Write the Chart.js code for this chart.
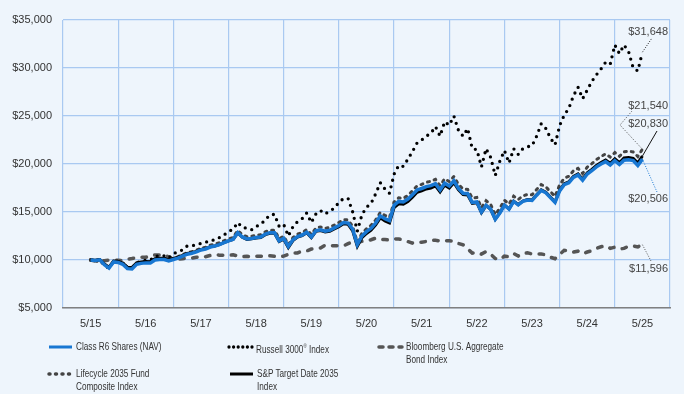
<!DOCTYPE html>
<html>
<head>
<meta charset="utf-8">
<script src="https://cdn.jsdelivr.net/npm/chart.js@4.4.1/dist/chart.umd.min.js"></script>
<style>
  html, body { margin: 0; padding: 0; background: #eef5fc; }
  #wrap { position: relative; width: 684px; height: 394px; overflow: hidden; }
  #growthChart { position: absolute; left: 0; top: 0; }
  .lg { position: absolute; font: 11px "Liberation Sans", Arial, sans-serif; color: #333; line-height: 13px; }
  .lg svg { position: absolute; }
  .lg .t { margin-left: 29px; white-space: nowrap; transform: scaleX(0.745); transform-origin: left top; }
</style>
</head>
<body>
<div id="wrap">
  <canvas id="growthChart" width="684" height="394"></canvas>
  <div id="legend"></div>
</div>
<script>
// x tick labels, one per year (data is monthly, May 2015 .. May 2025)
const tickLabels = ['5/15', '5/16', '5/17', '5/18', '5/19', '5/20', '5/21', '5/22', '5/23', '5/24', '5/25'];

const classR6 = [
  10000, 9950, 10020, 9500, 9150, 9800, 9750, 9550, 9100, 9060,
  9550, 9650, 9700, 9680, 10000, 10050, 10050, 9900, 10050, 10200,
  10400, 10600, 10700, 10850, 11050, 11150, 11350, 11450, 11600, 11800,
  12000, 12150, 12850, 12400, 12200, 12250, 12350, 12400, 12700, 12850,
  12850, 12000, 12250, 11400, 12100, 12450, 12600, 12900, 12400, 13050,
  13150, 13000, 13100, 13350, 13600, 13900, 13850, 13200, 11600, 12500,
  12950, 13300, 13850, 14600, 14300, 14100, 15700, 16100, 16050, 16350,
  16800, 17300, 17450, 17650, 17750, 17950, 17300, 18000, 17700, 18250,
  17450, 16950, 16900, 16000, 16050, 15000, 15700, 15300, 14250, 14900,
  15700, 15300, 16100, 15750, 16100, 16250, 16200, 16750, 17250, 17000,
  16500, 16000, 17200, 17850, 18050, 18600, 18850, 18300, 18950, 19300,
  19700, 20000, 20250, 19900, 20350, 19950, 20400, 20450, 20350, 19850,
  20506
];

const russell3000 = [
  10000, 9830, 10000, 9420, 9140, 9850, 9900, 9700, 9150, 9130,
  9760, 9820, 9990, 10010, 10400, 10420, 10440, 10210, 10660, 10850,
  11050, 11460, 11470, 11590, 11720, 11830, 12050, 12080, 12330, 12600,
  12980, 13200, 13900, 13400, 13300, 13150, 13500, 13700, 14200, 14700,
  14750, 13500, 13700, 12500, 13460, 14000, 14300, 14900, 13900, 14800,
  15150, 14800, 15100, 15400, 16000, 16400, 16400, 15000, 13000, 14700,
  15500, 15900, 16900, 18050, 17400, 16950, 18950, 19850, 19750, 20500,
  21300, 22200, 22500, 22900, 23200, 23900, 22900, 24400, 24050, 25000,
  23500, 22900, 23700, 21600, 21500, 19700, 21600, 20700, 18800, 20300,
  21400, 20100, 21600, 21000, 21600, 21800, 21900, 22900, 24200, 23700,
  22700, 22000, 24000, 25100, 25800, 27100, 28000, 26800, 27700, 28600,
  29300, 29900, 30600, 30400, 32400, 31500, 32400, 31700, 30000, 29700,
  31648
];

const bloombergAgg = [
  10000, 9900, 9970, 9920, 9990, 10000, 9970, 9940, 10070, 10150,
  10250, 10280, 10280, 10470, 10530, 10520, 10510, 10330, 10080, 10100,
  10120, 10200, 10200, 10280, 10360, 10350, 10470, 10560, 10500, 10500,
  10490, 10540, 10420, 10330, 10400, 10320, 10390, 10390, 10390, 10450,
  10390, 10330, 10400, 10590, 10740, 10740, 10940, 10950, 11140, 11230,
  11250, 11540, 11480, 11490, 11480, 11470, 11700, 11910, 11840, 11950,
  12010, 12110, 12280, 12150, 12130, 12080, 12200, 12180, 12090, 11920,
  11760, 11850, 11840, 11930, 12070, 12050, 11990, 12000, 12000, 11980,
  11720, 11590, 11160, 10720, 10790, 10610, 10880, 10610, 10160, 10020,
  10400, 10350, 10680, 10410, 10690, 10750, 10630, 10620, 10620, 10550,
  10290, 10130, 10590, 11000, 10970, 10820, 10920, 10640, 10830, 10960,
  11210, 11380, 11490, 11210, 11340, 11150, 11210, 11450, 11460, 11370,
  11596
];

const lifecycle2035 = [
  10000, 9980, 10050, 9560, 9230, 9860, 9830, 9650, 9250, 9210,
  9670, 9770, 9830, 9810, 10120, 10180, 10180, 10030, 10190, 10350,
  10550, 10760, 10860, 11020, 11230, 11330, 11540, 11640, 11800, 12000,
  12200, 12350, 13080, 12620, 12420, 12470, 12580, 12630, 12940, 13100,
  13100, 12220, 12480, 11600, 12330, 12700, 12860, 13170, 12660, 13330,
  13440, 13290, 13400, 13650, 13910, 14210, 14170, 13500, 11850, 12780,
  13250, 13620, 14180, 14950, 14650, 14430, 16050, 16470, 16420, 16730,
  17200, 17720, 17880, 18090, 18200, 18410, 17740, 18460, 18160, 18700,
  17870, 17390, 17360, 16450, 16520, 15460, 16180, 15790, 14720, 15400,
  16220, 15830, 16650, 16300, 16670, 16830, 16790, 17350, 17860, 17610,
  17120, 16620, 17840, 18510, 18720, 19290, 19550, 19010, 19670, 20030,
  20460, 20780, 21050, 20720, 21190, 20800, 21270, 21340, 21250, 20780,
  21540
];

const spTarget2035 = [
  10000, 9970, 10040, 9580, 9250, 9880, 9850, 9670, 9250, 9210,
  9700, 9800, 9850, 9830, 10140, 10180, 10170, 10010, 10150, 10290,
  10480, 10670, 10760, 10900, 11090, 11180, 11370, 11460, 11600, 11800,
  12000, 12140, 12820, 12360, 12150, 12200, 12300, 12350, 12640, 12790,
  12790, 11920, 12170, 11300, 12020, 12380, 12530, 12840, 12330, 12980,
  13070, 12910, 13000, 13240, 13480, 13770, 13710, 13040, 11420, 12320,
  12770, 13110, 13650, 14390, 14070, 13860, 15450, 15850, 15800, 16100,
  16550, 17050, 17200, 17400, 17500, 17720, 17080, 17790, 17490, 18050,
  17300, 16810, 16780, 15900, 15970, 14940, 15660, 15280, 14250, 14920,
  15720, 15320, 16130, 15780, 16140, 16290, 16250, 16800, 17300, 17060,
  16560, 16070, 17280, 17940, 18150, 18710, 18970, 18420, 19080, 19440,
  19850, 20160, 20420, 20080, 20540, 20130, 20620, 20680, 20580, 20100,
  20830
];

const toXY = arr => arr.map((v, i) => ({ x: i, y: v }));
const money = v => '$' + v.toLocaleString('en-US');

const fontFam = '"Liberation Sans", Arial, sans-serif';

// value labels at the right end, with leader lines
const endLabels = {
  id: 'endLabels',
  afterDatasetsDraw(chart) {
    const ctx = chart.ctx;
    const xs = chart.scales.x, ys = chart.scales.y;
    const last = classR6.length - 1;
    const px = xs.getPixelForValue(last);
    const items = [
      { v: russell3000[last], ty: 32, pts: [[652, 38]], color: '#222', dash: [1, 1.5] },
      { v: lifecycle2035[last], ty: 106, pts: [[620, 125], [632, 111]], color: '#555', dash: [1, 1.5] },
      { v: spTarget2035[last], ty: 124, pts: [[657, 131]], color: '#111', dash: [] },
      { v: classR6[last], ty: 199, pts: [[657, 192]], color: '#1877d2', dash: [1, 1.5] },
      { v: bloombergAgg[last], ty: 269, pts: [[651, 261]], color: '#555', dash: [1, 1.5] }
    ];
    ctx.save();
    items.forEach(it => {
      ctx.beginPath();
      ctx.setLineDash(it.dash);
      ctx.strokeStyle = it.color;
      ctx.lineWidth = 1;
      ctx.moveTo(px, ys.getPixelForValue(it.v));
      it.pts.forEach(p => ctx.lineTo(p[0], p[1]));
      ctx.stroke();
    });
    ctx.setLineDash([]);
    ctx.fillStyle = '#444';
    ctx.font = '11px ' + fontFam;
    ctx.textAlign = 'right';
    ctx.textBaseline = 'middle';
    items.forEach(it => ctx.fillText(money(it.v), 668, it.ty));
    ctx.restore();
  }
};

const gridTicks = tickLabels.map((_, i) => ({ value: i * 12 - 6 })).concat([{ value: 126 }]);

new Chart(document.getElementById('growthChart'), {
  type: 'line',
  data: {
    datasets: [
      { label: 'Class R6 Shares (NAV)', data: toXY(classR6), borderColor: '#1877d2', borderWidth: 3.5, pointRadius: 0, tension: 0 },
      { label: 'S&P Target Date 2035 Index', data: toXY(spTarget2035), borderColor: '#000', borderWidth: 3, pointRadius: 0, tension: 0 },
      { label: 'Lifecycle 2035 Fund Composite Index', data: toXY(lifecycle2035), borderColor: '#444', borderWidth: 3, borderDash: [2, 5], borderCapStyle: 'round', pointRadius: 0, tension: 0 },
      { label: 'Russell 3000® Index', data: toXY(russell3000), borderColor: '#000', borderWidth: 3.3, borderDash: [0, 6.8], borderCapStyle: 'round', pointRadius: 0, tension: 0 },
      { label: 'Bloomberg U.S. Aggregate Bond Index', data: toXY(bloombergAgg), borderColor: '#555', borderWidth: 3.5, borderDash: [4.5, 8.5], borderCapStyle: 'round', pointRadius: 0, tension: 0 }
    ]
  },
  options: {
    responsive: false,
    animation: false,
    devicePixelRatio: 1,
    layout: { padding: { top: 20, right: 14, left: 0, bottom: 0 } },
    plugins: { legend: { display: false }, tooltip: { enabled: false } },
    scales: {
      x: {
        type: 'linear',
        min: -6,
        max: 126,
        afterBuildTicks: s => { s.ticks = tickLabels.map((_, i) => ({ value: i * 12 })); },
        afterFit: s => { s.height = 86; },
        ticks: {
          callback: (v, i) => tickLabels[i],
          color: '#333',
          font: { size: 11, family: fontFam },
          padding: 9,
          maxRotation: 0,
          autoSkip: false
        },
        grid: { display: false, drawTicks: false },
        border: { color: '#808080', width: 1.5 }
      },
      xg: {
        type: 'linear',
        position: 'bottom',
        min: -6,
        max: 126,
        afterBuildTicks: s => { s.ticks = gridTicks; },
        afterFit: s => { s.height = 0; },
        ticks: { display: false },
        grid: { color: '#a9c9f1', lineWidth: 1.2, drawTicks: false },
        border: { display: false }
      },
      y: {
        min: 5000,
        max: 35000,
        afterFit: s => { s.width = 63; },
        ticks: {
          stepSize: 5000,
          callback: v => money(v),
          color: '#333',
          font: { size: 11, family: fontFam },
          padding: 11
        },
        grid: { color: '#a9c9f1', lineWidth: 1.2, drawTicks: false },
        border: { display: false }
      }
    }
  },
  plugins: [endLabels]
});

// legend below the plot
const legendItems = [
  { text: 'Class R6 Shares (NAV)', x: 47, y: 340, stroke: '#1877d2', w: 3, dash: '', cap: 'butt' },
  { text: 'Russell 3000<sup style="font-size:6px">®</sup> Index', x: 227, y: 340, stroke: '#000', w: 3.3, dash: '0 4.6', cap: 'round' },
  { text: 'Bloomberg U.S. Aggregate<br>Bond Index', x: 377, y: 340, stroke: '#555', w: 3.5, dash: '4 6', cap: 'round' },
  { text: 'Lifecycle 2035 Fund<br>Composite Index', x: 47, y: 367, stroke: '#444', w: 3.5, dash: '1 5.5', cap: 'round' },
  { text: 'S&amp;P Target Date 2035<br>Index', x: 228, y: 367, stroke: '#000', w: 3, dash: '', cap: 'butt' }
];
const lg = document.getElementById('legend');
legendItems.forEach(it => {
  const d = document.createElement('div');
  d.className = 'lg';
  d.style.left = it.x + 'px';
  d.style.top = it.y + 'px';
  d.innerHTML =
    '<svg width="28" height="12" style="left:0;top:1px">' +
    '<line x1="2" y1="6" x2="25" y2="6" stroke="' + it.stroke + '" stroke-width="' + it.w + '"' +
    (it.dash ? ' stroke-dasharray="' + it.dash + '"' : '') + ' stroke-linecap="' + it.cap + '"/></svg>' +
    '<div class="t">' + it.text + '</div>';
  lg.appendChild(d);
});
</script>
</body>
</html>
